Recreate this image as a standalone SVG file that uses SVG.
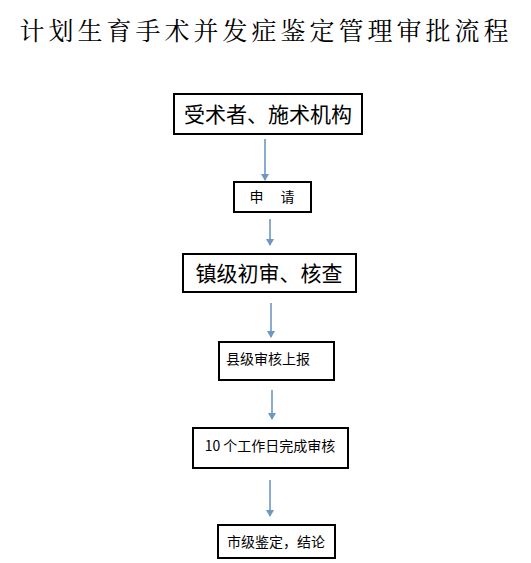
<svg xmlns="http://www.w3.org/2000/svg" width="531" height="563" viewBox="0 0 531 563">
<defs>
<style>
.box{fill:#fff;stroke:#000;stroke-width:2}
.t{font-family:"Noto Sans CJK SC","Liberation Sans",sans-serif;fill:#000;text-anchor:middle}
.title{font-family:"Noto Serif CJK SC","Noto Sans CJK SC",serif;font-size:25px;letter-spacing:4px;fill:#000;text-anchor:middle}
.c{stroke:#6d97c4;stroke-width:1.6;fill:none}
</style>
<marker id="ah" markerWidth="8" markerHeight="8" refX="6" refY="4" orient="auto" markerUnits="userSpaceOnUse">
<path d="M0,0 L7,4 L0,8 Z" fill="#6d97c4"/>
</marker>
</defs>
<rect width="531" height="563" fill="#fff"/>
<text class="title" x="266" y="40">计划生育手术并发症鉴定管理审批流程</text>
<g id="connectors">
<line class="c" x1="265" y1="139" x2="265" y2="180" marker-end="url(#ah)"/>
<line class="c" x1="270" y1="219" x2="270" y2="245" marker-end="url(#ah)"/>
<line class="c" x1="271" y1="303" x2="271" y2="337" marker-end="url(#ah)"/>
<line class="c" x1="272" y1="390" x2="272" y2="419" marker-end="url(#ah)"/>
<line class="c" x1="270" y1="480" x2="270" y2="516" marker-end="url(#ah)"/>
</g>
<g id="n1"><rect class="box" x="174" y="94" width="188" height="40"/><text class="t" x="268" y="122" font-size="21">受术者、施术机构</text></g>
<g id="n2"><rect class="box" x="234" y="182" width="77" height="30"/><text class="t" x="272" y="202" font-size="14">申　 请</text></g>
<g id="n3"><rect class="box" x="183" y="254" width="173" height="38"/><text class="t" x="269" y="281" font-size="21">镇级初审、核查</text></g>
<g id="n4"><rect class="box" x="219" y="342" width="115" height="38"/><text class="t" x="268" y="364" font-size="14">县级审核上报</text></g>
<g id="n5"><rect class="box" x="193" y="428" width="155" height="40"/><text class="t" x="270" y="451" font-size="14">10 个工作日完成审核</text></g>
<g id="n6"><rect class="box" x="218" y="525" width="117" height="33"/><text class="t" x="276" y="547" font-size="14">市级鉴定，结论</text></g>
</svg>
